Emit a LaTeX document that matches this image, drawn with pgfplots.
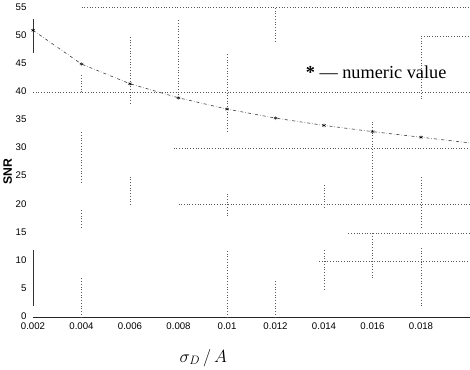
\documentclass[border=0pt]{standalone}
\usepackage{fontspec}
\setmainfont{Liberation Serif}
\setsansfont{Liberation Sans}
\usepackage{pgfplots}
\pgfplotsset{compat=1.18}
\begin{document}
\begin{tikzpicture}
\begin{axis}[
  scale only axis, width=430pt, height=305pt,
  xmin=0.002, xmax=0.02, ymin=0, ymax=55,
  axis x line*=bottom, axis y line*=left,
  y axis line style={draw=none},
  x axis line style={line width=0.9pt, black!85, -},
  major tick length=0pt,
  xtick={0.002,0.004,0.006,0.008,0.010,0.012,0.014,0.016,0.018},
  xticklabels={0.002,0.004,0.006,0.008,0.01,0.012,0.014,0.016,0.018},
  ytick={0,5,10,15,20,25,30,35,40,45,50,55},
  scaled x ticks=false,
  /pgf/number format/assume math mode=true,
  ticklabel style={font=\sffamily\fontsize{9.5}{10}\selectfont},
  xticklabel style={yshift=-2pt},
  yticklabel style={xshift=-3pt, yshift=1pt},
  ylabel={SNR},
  ylabel style={font=\sffamily\bfseries\fontsize{12}{14}\selectfont, at={(axis description cs:-0.058,0.47)}, anchor=center},
  xlabel={$\sigma_D\,/\,A$},
  xlabel style={font=\fontsize{17}{20}\selectfont, at={(axis description cs:0.39,-0.13)}, anchor=center},
  clip=false,
  unbounded coords=jump,
]
% fragmentary grid (as in the scan)
\addplot[dotted, line width=0.7pt, black!65] coordinates {
 (0.004,55) (0.02,55) (0.02,nan)
 (0.018,50) (0.02,50) (0.02,nan)
 (0.002,40) (0.02,40) (0.02,nan)
 (0.0078,30) (0.02,30) (0.02,nan)
 (0.008,20) (0.02,20) (0.02,nan)
 (0.015,15) (0.02,15) (0.02,nan)
 (0.0138,10) (0.02,10) (0.02,nan)
};
\addplot[dotted, line width=0.7pt, black!65] coordinates {
 (0.004,0) (0.004,7) (0.004,nan)
 (0.004,16) (0.004,19) (0.004,nan)
 (0.004,24) (0.004,33) (0.004,nan)
 (0.004,40) (0.004,43) (0.004,nan)
 (0.006,20) (0.006,25) (0.006,nan)
 (0.006,38) (0.006,50) (0.006,nan)
 (0.008,39) (0.008,53) (0.008,nan)
 (0.01,0) (0.01,12) (0.01,nan)
 (0.01,18) (0.01,22) (0.01,nan)
 (0.01,33) (0.01,47) (0.01,nan)
 (0.012,0) (0.012,6.5) (0.012,nan)
 (0.012,49) (0.012,55) (0.012,nan)
 (0.014,5) (0.014,12) (0.014,nan)
 (0.014,19.5) (0.014,23.5) (0.014,nan)
 (0.016,7) (0.016,15) (0.016,nan)
 (0.016,21) (0.016,35) (0.016,nan)
 (0.018,2) (0.018,12.5) (0.018,nan)
 (0.018,16) (0.018,25) (0.018,nan)
 (0.018,38.8) (0.018,50) (0.018,nan)
};
\addplot[line width=0.8pt, black!80] coordinates {
 (0.002,2) (0.002,12) (0.002,nan)
 (0.002,47) (0.002,53) (0.002,nan)
};
% SNR curve
\addplot[dash dot, line width=0.6pt, black!75] coordinates {
 (0.002,51) (0.004,45) (0.006,41.5) (0.008,39) (0.010,37) (0.012,35.4)
 (0.014,34.1) (0.016,33) (0.018,32) (0.020,31)
};
\addplot[only marks, mark=asterisk, mark size=2pt, black] coordinates {
 (0.002,51) (0.004,45) (0.006,41.5) (0.008,39) (0.010,37) (0.012,35.4)
 (0.014,34.1) (0.016,33) (0.018,32)
};
\node[anchor=west, font=\fontsize{18}{20}\selectfont] at (axis cs:0.0131,43.6) {\textbf{*} --- numeric value};
\end{axis}
\end{tikzpicture}
\end{document}
